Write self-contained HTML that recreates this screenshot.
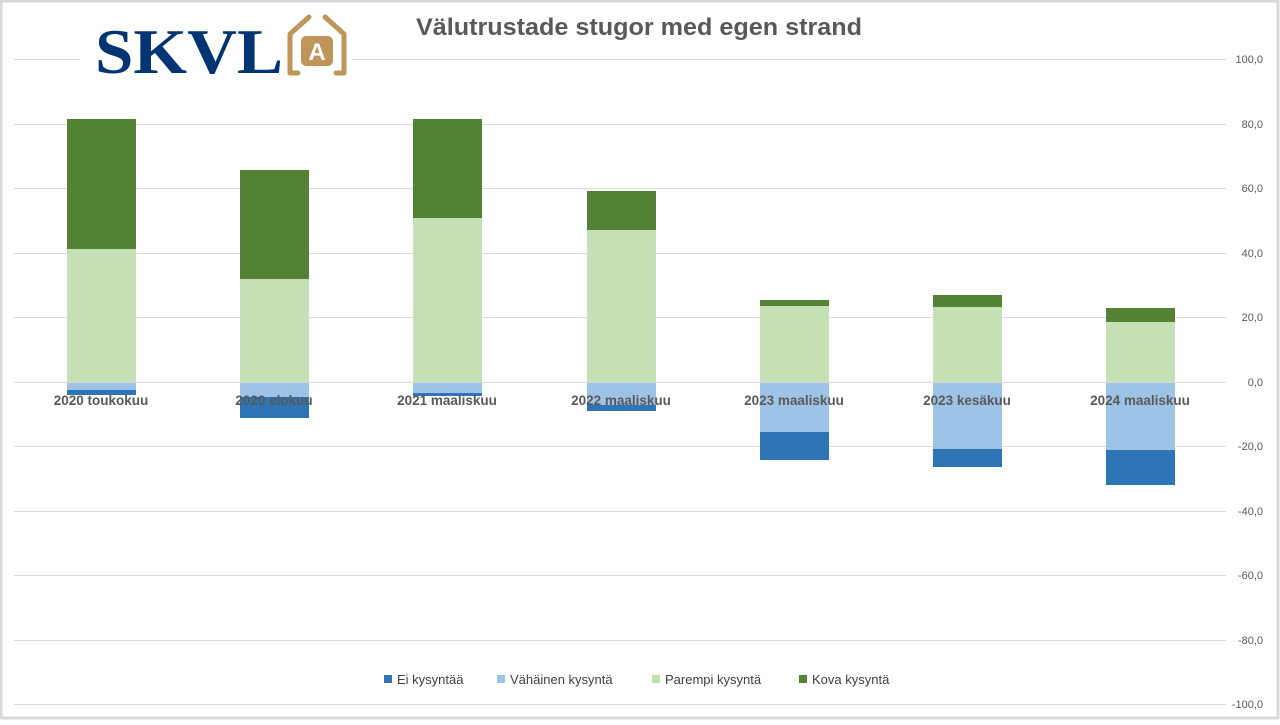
<!DOCTYPE html><html><head><meta charset="utf-8"><style>
body{margin:0;width:1280px;height:720px;overflow:hidden;background:#fff;font-family:"Liberation Sans",sans-serif}
</style></head><body>
<svg width="1280" height="720" xmlns="http://www.w3.org/2000/svg">
<rect x="1" y="1" width="1277" height="717" fill="#fff" stroke="#d9d9d9" stroke-width="3"/>
<g stroke="#d9d9d9" stroke-width="1">
<line x1="14" x2="1226" y1="59.5" y2="59.5"/><line x1="14" x2="1226" y1="124.5" y2="124.5"/>
<line x1="14" x2="1226" y1="188.5" y2="188.5"/><line x1="14" x2="1226" y1="253.5" y2="253.5"/>
<line x1="14" x2="1226" y1="317.5" y2="317.5"/>
<line x1="14" x2="1226" y1="446.5" y2="446.5"/><line x1="14" x2="1226" y1="511.5" y2="511.5"/>
<line x1="14" x2="1226" y1="575.5" y2="575.5"/><line x1="14" x2="1226" y1="640.5" y2="640.5"/>
<line x1="14" x2="1226" y1="704.5" y2="704.5"/>
</g>
<g>
<rect x="67" y="249" width="69" height="133" fill="#c5e0b4"/><rect x="67" y="119" width="69" height="130" fill="#548235"/>
<rect x="67" y="382" width="69" height="8" fill="#9dc3e6"/><rect x="67" y="390" width="69" height="5" fill="#2e75b6"/>
<rect x="240" y="279" width="69" height="103" fill="#c5e0b4"/><rect x="240" y="170" width="69" height="109" fill="#548235"/>
<rect x="240" y="382" width="69" height="15" fill="#9dc3e6"/><rect x="240" y="397" width="69" height="21" fill="#2e75b6"/>
<rect x="413" y="218" width="69" height="164" fill="#c5e0b4"/><rect x="413" y="119" width="69" height="99" fill="#548235"/>
<rect x="413" y="382" width="69" height="11" fill="#9dc3e6"/><rect x="413" y="393" width="69" height="3" fill="#2e75b6"/>
<rect x="587" y="230" width="69" height="152" fill="#c5e0b4"/><rect x="587" y="191" width="69" height="39" fill="#548235"/>
<rect x="587" y="382" width="69" height="23" fill="#9dc3e6"/><rect x="587" y="405" width="69" height="6" fill="#2e75b6"/>
<rect x="760" y="306" width="69" height="76" fill="#c5e0b4"/><rect x="760" y="300" width="69" height="6" fill="#548235"/>
<rect x="760" y="382" width="69" height="50" fill="#9dc3e6"/><rect x="760" y="432" width="69" height="28" fill="#2e75b6"/>
<rect x="933" y="307" width="69" height="75" fill="#c5e0b4"/><rect x="933" y="295" width="69" height="12" fill="#548235"/>
<rect x="933" y="382" width="69" height="67" fill="#9dc3e6"/><rect x="933" y="449" width="69" height="18" fill="#2e75b6"/>
<rect x="1106" y="322" width="69" height="60" fill="#c5e0b4"/><rect x="1106" y="308" width="69" height="14" fill="#548235"/>
<rect x="1106" y="382" width="69" height="68" fill="#9dc3e6"/><rect x="1106" y="450" width="69" height="35" fill="#2e75b6"/>
</g>
<line x1="14" x2="1226" y1="382.5" y2="382.5" stroke="#d9d9d9"/>
<g font-size="13.5" font-weight="bold" fill="#595959" text-anchor="middle">
<text x="101" y="405">2020 toukokuu</text><text x="274" y="405">2020 elokuu</text>
<text x="447" y="405">2021 maaliskuu</text><text x="621" y="405">2022 maaliskuu</text>
<text x="794" y="405">2023 maaliskuu</text><text x="967" y="405">2023 kesäkuu</text>
<text x="1140" y="405">2024 maaliskuu</text>
</g>
<g font-size="11" fill="#595959" text-anchor="end">
<text x="1263" y="63">100,0</text><text x="1263" y="128">80,0</text><text x="1263" y="192">60,0</text>
<text x="1263" y="257">40,0</text><text x="1263" y="321">20,0</text><text x="1263" y="386">0,0</text>
<text x="1263" y="450">-20,0</text><text x="1263" y="515">-40,0</text><text x="1263" y="579">-60,0</text>
<text x="1263" y="644">-80,0</text><text x="1263" y="708">-100,0</text>
</g>
<text x="416" y="35" font-size="24" font-weight="bold" fill="#595959" textLength="446" lengthAdjust="spacingAndGlyphs">Välutrustade stugor med egen strand</text>
<g font-size="13" fill="#404040">
<rect x="384" y="675" width="8" height="8" fill="#2e75b6"/><text x="397" y="684">Ei kysyntää</text>
<rect x="497" y="675" width="8" height="8" fill="#9dc3e6"/><text x="510" y="684">Vähäinen kysyntä</text>
<rect x="652" y="675" width="8" height="8" fill="#c5e0b4"/><text x="665" y="684">Parempi kysyntä</text>
<rect x="799" y="675" width="8" height="8" fill="#548235"/><text x="812" y="684">Kova kysyntä</text>
</g>
<rect x="80" y="12" width="272" height="66" fill="#fff"/>
<text x="95" y="73" font-family="Liberation Serif,serif" font-weight="bold" font-size="64" fill="#003473" textLength="188" lengthAdjust="spacingAndGlyphs">SKVL</text>
<path d="M290 34 L290 73 L298 73 M336 73 L344 73 L344 34 L325 17 M309 17 L290 34" fill="none" stroke="#c0955a" stroke-width="5" stroke-linecap="round" stroke-linejoin="round"/>
<rect x="301" y="36" width="32" height="30" rx="5" fill="#c0955a"/>
<text x="317" y="60" font-family="Liberation Sans,sans-serif" font-weight="bold" font-size="24" fill="#fff" text-anchor="middle">A</text>
</svg>
</body></html>
